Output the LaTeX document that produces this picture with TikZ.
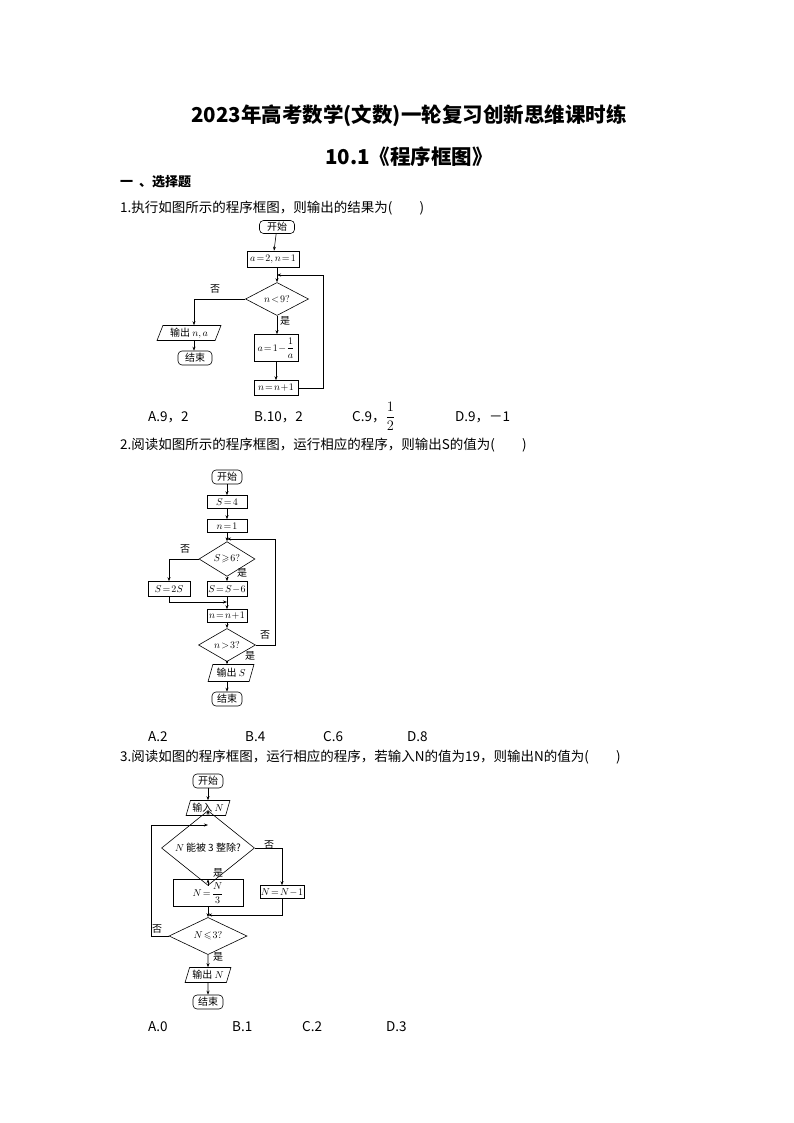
\documentclass[tikz,border=0pt]{standalone}
\usepackage{amsmath,amssymb}
\usepackage{fontspec}
\setmainfont{Noto Sans CJK SC}
\usetikzlibrary{shapes.geometric,arrows.meta}
\tikzset{
 every node/.style={font=\fontsize{10}{11}\selectfont},
 fbox/.style={draw,line width=0.6pt,inner sep=1pt},
 term/.style={draw,line width=0.6pt,rounded corners=4pt,inner sep=1pt},
 dia/.style={draw,line width=0.6pt,diamond,inner sep=0pt},
 io/.style={draw,line width=0.6pt,trapezium,trapezium left angle=70,trapezium right angle=110,inner sep=1pt,trapezium stretches=true},
 fl/.style={line width=0.6pt,-{Stealth[length=4pt,width=3pt]}},
 ln/.style={line width=0.6pt},
 qt/.style={anchor=base west,font=\fontsize{13.5}{14}\selectfont,inner sep=0},
 lab/.style={font=\fontsize{10}{11}\selectfont,inner sep=0}
}
\begin{document}
\begin{tikzpicture}[x=1pt,y=-1pt]
\useasboundingbox (0,0) rectangle (794,1123);
\node[font=\fontsize{20.5}{22}\selectfont\bfseries] (t1) at (409,116) {2023年高考数学(文数)一轮复习创新思维课时练};
\node[font=\fontsize{20.5}{22}\selectfont\bfseries] (t2) at (409,157) {10.1《程序框图》};
\node[qt,font=\fontsize{13}{14}\selectfont\bfseries] (sec) at (120,187) {一\ \ 、选择题};
\node[qt] (q1) at (120,213) {1.执行如图所示的程序框图，则输出的结果为(\quad\quad)};
% chart 1
\node[term,minimum width=35pt,minimum height=13pt] (s1) at (277,227) {开始};
\node[fbox,minimum width=52pt,minimum height=16pt] (b1) at (273,259) {$a\!=\!2,n\!=\!1$};
\coordinate (j1) at (277,275);
\node[dia,minimum width=63pt,minimum height=23pt] (d1) at (277,299) {$n\!<\!9?$};
\node[io,minimum width=64pt,minimum height=15pt] (o1) at (189,333) {输出 $n,a$};
\node[term,minimum width=34pt,minimum height=14pt] (e1) at (195,358) {结束};
\node[fbox,minimum width=44pt,minimum height=27pt] (b2) at (276,348) {$a\!=\!1\!-\!\dfrac{1}{a}$};
\node[fbox,minimum width=44pt,minimum height=15pt] (b3) at (276,388) {$n\!=\!n\!+\!1$};
\draw[fl] (s1) -- (b1);
\draw[fl] (b1.south -| j1) -- (d1.north);
\draw[fl] (d1.west) -| (o1.north -| 194,0);
\draw[fl] (o1.south -| 194,0) -- (e1.north -| 194,0);
\draw[fl] (d1.south) -- (b2.north -| d1.south);
\draw[fl] (b2) -- (b3);
\draw[fl] (b3.east) -| (323,275) -- (j1);
\node[lab] (n1) at (215,289) {否};
\node[lab] (y1) at (285,321) {是};
\node[qt] (a1) at (148,421) {A.9，2};
\node[qt] (a2) at (254,421) {B.10，2};
\node[qt] (a3) at (352,421) {C.9，$\dfrac{1}{2}$};
\node[qt] (a4) at (455,421) {D.9，－1};
\node[qt] (q2) at (120,449) {2.阅读如图所示的程序框图，运行相应的程序，则输出S的值为(\quad\quad)};
% chart 2
\node[term,minimum width=30pt,minimum height=14pt] (s2) at (227,477) {开始};
\node[fbox,minimum width=40pt,minimum height=13pt] (c1) at (227,502) {$S\!=\!4$};
\node[fbox,minimum width=40pt,minimum height=13pt] (c2) at (227,526) {$n\!=\!1$};
\coordinate (j2) at (227,539);
\node[dia,minimum width=56pt,minimum height=22pt] (d2) at (227,559) {$S\!\geqslant\! 6?$};
\node[fbox,minimum width=42pt,minimum height=15pt] (c3) at (169,589) {$S\!=\!2S$};
\node[fbox,minimum width=40pt,minimum height=15pt] (c4) at (227,589) {$S\!=\!S\!-\!6$};
\node[fbox,minimum width=40pt,minimum height=13pt] (c5) at (227,616) {$n\!=\!n\!+\!1$};
\node[dia,minimum width=57pt,minimum height=23pt] (d3) at (227,645) {$n\!>\!3?$};
\node[io,minimum width=46pt,minimum height=17pt] (o2) at (231,673) {输出 $S$};
\node[term,minimum width=30pt,minimum height=14pt] (e2) at (227,699) {结束};
\draw[fl] (s2) -- (c1);
\draw[fl] (c1) -- (c2);
\draw[fl] (c2) -- (d2);
\draw[fl] (d2.west) -| (c3.north);
\draw[fl] (d2.south) -- (c4.north);
\draw[fl] (c3.south) |- (227,602);
\draw[fl] (c4) -- (c5);
\draw[fl] (c5) -- (d3);
\draw[fl] (d3.south) -- (o2.north -| d3.south);
\draw[fl] (o2.south -| e2.north) -- (e2.north);
\draw[fl] (d3.east) -| (275,539) -- (j2);
\node[lab] (n2) at (185,549) {否};
\node[lab] (y2) at (242,573) {是};
\node[lab] (n3) at (265,635) {否};
\node[lab] (y3) at (250,656) {是};
\node[qt] (b21) at (148,741) {A.2};
\node[qt] (b22) at (245,741) {B.4};
\node[qt] (b23) at (323,741) {C.6};
\node[qt] (b24) at (407,741) {D.8};
\node[qt] (q3) at (120,761) {3.阅读如图的程序框图，运行相应的程序，若输入N的值为19，则输出N的值为(\quad\quad)};
% chart 3
\node[term,minimum width=30pt,minimum height=14pt] (s3) at (208,781) {开始};
\node[io,minimum width=44pt,minimum height=15pt] (i3) at (208,808) {输入 $N$};
\coordinate (j3) at (208,825);
\node[dia,minimum width=93pt,minimum height=37pt] (d4) at (208,848) {$N$\,能被 3 整除?};
\node[fbox,minimum width=42pt,minimum height=13pt] (g1) at (282,892) {$N\!=\!N\!-\!1$};
\node[fbox,minimum width=70pt,minimum height=27pt] (g2) at (208,893) {$N\!=\!\dfrac{N}{3}$};
\node[dia,minimum width=78pt,minimum height=23pt] (d5) at (208,936) {$N\!\leqslant\! 3?$};
\node[io,minimum width=46pt,minimum height=15pt] (o3) at (208,975) {输出 $N$};
\node[term,minimum width=30pt,minimum height=14pt] (e3) at (208,1002) {结束};
\draw[fl] (s3) -- (i3);
\draw[fl] (i3) -- (d4);
\draw[fl] (d4.east) -| (g1.north);
\draw[fl] (d4.south) -- (g2.north);
\draw[fl] (g1.south) |- (208,915);
\draw[fl] (g2.south) -- (d5.north);
\draw[fl] (d5.west) -| (151,825) -- (j3);
\draw[fl] (d5.south) -- (o3.north);
\draw[fl] (o3.south) -- (e3.north);
\node[lab] (n4) at (269,845) {否};
\node[lab] (y4) at (218,873) {是};
\node[lab] (n5) at (157,929) {否};
\node[lab] (y5) at (218,957) {是};
\node[qt] (c31) at (148,1031) {A.0};
\node[qt] (c32) at (232,1031) {B.1};
\node[qt] (c33) at (302,1031) {C.2};
\node[qt] (c34) at (386,1031) {D.3};
\end{tikzpicture}
\end{document}
